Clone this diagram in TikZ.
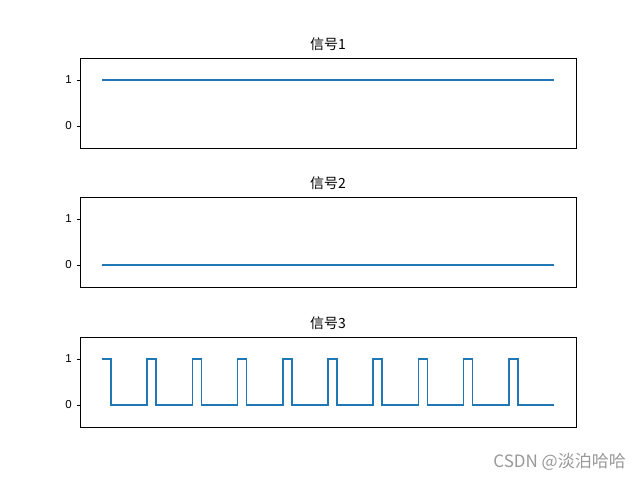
\documentclass[tikz,border=0pt]{standalone}
\usepackage{fontspec}
\setmainfont{Liberation Sans}
\newfontfamily\cjk{Noto Sans CJK SC}
\definecolor{tabblue}{HTML}{1F77B4}
\begin{document}
\begin{tikzpicture}[x=1pt,y=-1pt,
  axbox/.style={draw=black,line width=0.8pt},
  sig/.style={draw=tabblue,line width=1.5pt},
  tick/.style={line width=0.8pt},
  ticklbl/.style={anchor=east,font=\fontsize{11.5}{13}\selectfont,inner sep=0pt},
  ttl/.style={font=\cjk\fontsize{14}{16}\selectfont,inner sep=0pt}]
\useasboundingbox[fill=white] (0,0) rectangle (640,480);
\foreach \top/\n in {58/1,197/2,337/3}{
  \draw[axbox] (80,\top) rectangle (576,\top+90);
  \pgfmathsetmacro{\yone}{\top+22}
  \pgfmathsetmacro{\yzero}{\top+68}
  \draw[tick] (80,\yone) -- ++(-3.5,0);
  \draw[tick] (80,\yzero) -- ++(-3.5,0);
  \node[ticklbl] at (72,\yone) {1};
  \node[ticklbl] at (72,\yzero) {0};
  \node[ttl] (t\n) at (328,\top-14) {信号\n};
}
\draw[sig] (102,80) -- (554,80);
\draw[sig] (102,265) -- (554,265);
\draw[sig,line join=miter] (102,359) -- (111,359) -- (111,405)
  \foreach \k in {1,...,9}{ -- ({102+45.2*\k},405) -- ({102+45.2*\k},359) -- ({111+45.2*\k},359) -- ({111+45.2*\k},405)}
  -- (554,405);
\node[font=\cjk\fontsize{17}{20}\selectfont,text=black!40,anchor=east,inner sep=0pt] (wm) at (626,462) {CSDN @淡泊哈哈};
\end{tikzpicture}
\end{document}
